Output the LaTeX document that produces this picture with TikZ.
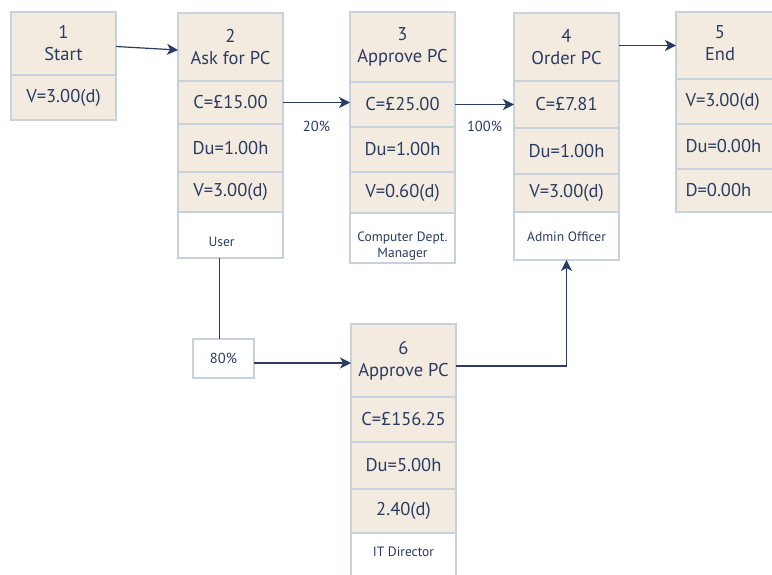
\documentclass[tikz,border=0pt]{standalone}
\usepackage{fontspec}
\setmainfont{PT Sans}
\usetikzlibrary{positioning,arrows.meta}

\definecolor{cream}{HTML}{F3EBDF}
\definecolor{edge}{HTML}{C6D2DE}
\definecolor{ink}{HTML}{2A3C62}

\tikzset{
  cell/.style={draw=edge, fill=cream, line width=1.3pt, outer sep=0pt, inner sep=0pt,
    minimum width=105pt, text=ink, align=center, font=\fontsize{18.5}{22}\selectfont},
  leftcell/.style={cell, text width=86pt, align=left},
  rolecell/.style={cell, fill=white},
  roletext/.style={text=ink, align=center, inner sep=0pt, font=\fontsize{13.5}{16}\selectfont},
  flow/.style={draw=ink, line width=1.2pt, -{Stealth[length=11pt,width=11pt,inset=3pt]}},
  share/.style={text=ink, font=\fontsize{14.5}{16}\selectfont},
}

\begin{document}
\begin{tikzpicture}[x=1pt,y=-1pt]
\useasboundingbox (0,0) rectangle (772,575);

% 1 - Start
\node[cell, anchor=north west, minimum height=63pt] (t1) at (11,12) {1\\Start};
\node[cell, below=0pt of t1, minimum height=45pt] (v1) {V=3.00(d)};

% 2 - Ask for PC
\node[cell, anchor=north west, minimum height=68pt] (t2) at (178,13) {2\\Ask for PC};
\node[cell, below=0pt of t2, minimum height=43pt] (c2) {C=£15.00};
\node[cell, below=0pt of c2, minimum height=48pt] (d2) {Du=1.00h};
\node[cell, below=0pt of d2, minimum height=40pt] (v2) {V=3.00(d)};
\node[rolecell, below=0pt of v2, minimum height=46pt,
  label={[roletext, xshift=-9pt, yshift=-7pt]center:User}] (r2) {};

% 3 - Approve PC
\node[cell, anchor=north west, minimum height=70pt] (t3) at (350,12) {3\\Approve PC};
\node[cell, below=0pt of t3, minimum height=45pt] (c3) {C=£25.00};
\node[cell, below=0pt of c3, minimum height=45pt] (d3) {Du=1.00h};
\node[cell, below=0pt of d3, minimum height=41pt] (v3) {V=0.60(d)};
\node[rolecell, below=0pt of v3, minimum height=50pt,
  label={[roletext, yshift=-8pt]center:Computer Dept.\\Manager}] (r3) {};

% 4 - Order PC
\node[cell, anchor=north west, minimum height=68pt] (t4) at (514,13) {4\\Order PC};
\node[cell, below=0pt of t4, minimum height=47pt] (c4) {C=£7.81};
\node[cell, below=0pt of c4, minimum height=46pt] (d4) {Du=1.00h};
\node[cell, below=0pt of d4, minimum height=38pt] (v4) {V=3.00(d)};
\node[rolecell, below=0pt of v4, minimum height=48pt,
  label={[roletext, yshift=-1pt]center:Admin Officer}] (r4) {};

% 5 - End (runs past the right edge)
\node[cell, anchor=north west, minimum height=67pt,
  label={[cell, draw=none, fill=none, xshift=-8.5pt, yshift=2pt]center:5\\End}] (t5) at (676,12) {};
\node[leftcell, below=0pt of t5, minimum height=45pt] (v5) {V=3.00(d)};
\node[leftcell, below=0pt of v5, minimum height=45pt] (d5) {Du=0.00h};
\node[leftcell, below=0pt of d5, minimum height=43pt] (e5) {D=0.00h};

% 6 - Approve PC (IT)
\node[cell, anchor=north west, minimum height=73pt] (t6) at (351,324) {6\\Approve PC};
\node[cell, below=0pt of t6, minimum height=45pt] (c6) {C=£156.25};
\node[cell, below=0pt of c6, minimum height=47pt] (d6) {Du=5.00h};
\node[cell, below=0pt of d6, minimum height=44pt] (v6) {2.40(d)};
\node[rolecell, below=0pt of v6, minimum height=47pt,
  label={[roletext, yshift=5pt]center:IT Director}] (r6) {};

% split
\node[rolecell, share, anchor=north west, minimum width=61pt, minimum height=39pt] (p80) at (193,339) {80\%};

% connectors
\draw[flow] ([yshift=-3pt]t1.east) -- ([yshift=-3pt]t2.west);
\draw[flow] (c2.east) -- (c2.east -| c3.west)
  node[share, midway, below=15pt] (l20) {20\%};
\draw[flow] (c3.east) -- (c3.east -| c4.west)
  node[share, midway, below=13pt] (l100) {100\%};
\draw[flow] ([yshift=1.5pt]t4.east) -- ([yshift=1.5pt]t4.east -| t5.west);
\draw[draw=ink, line width=1.2pt] ([xshift=-4pt]p80.north) -- ([xshift=-4pt]p80.north |- r2.south);
\draw[flow] ([yshift=-4.5pt]p80.east) -- ([yshift=-4.5pt]p80.east -| t6.west);
\draw[flow] ([yshift=-5.5pt]t6.east) -| (r4.south);
\end{tikzpicture}
\end{document}
